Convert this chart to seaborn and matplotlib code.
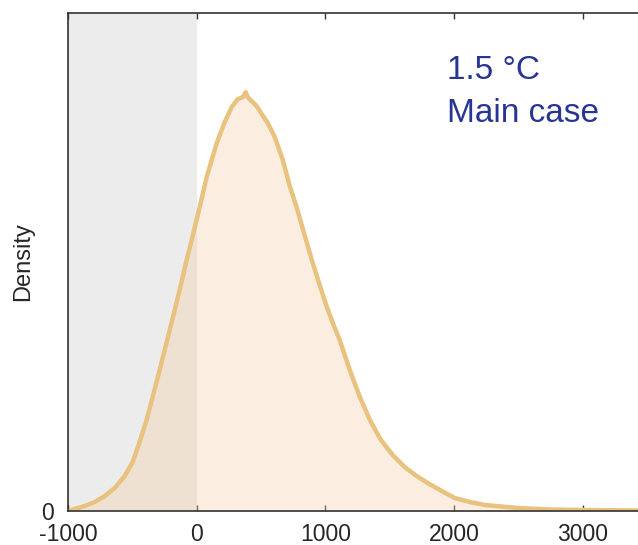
import matplotlib
matplotlib.use("Agg")
import matplotlib.pyplot as plt
import numpy as np
import pandas as pd
import seaborn as sns

# ---------------------------------------------------------------------------
# Data (density of the 1.5 °C main case)
# ---------------------------------------------------------------------------
x_vals = [-1000, -949, -871, -793, -715, -638, -560, -498, -443, -389, -342,
          -288, -210, -132, -78, -39, 23, 78, 156, 218, 272, 319, 358, 381,
          397, 428, 467, 506, 553, 607, 669, 723, 777, 839, 902, 956, 1011,
          1065, 1112, 1190, 1268, 1346, 1431, 1525, 1618, 1711, 1797, 1906,
          2007, 2124, 2240, 2497, 2745, 3018, 3430]
density = [0.0, 0.004, 0.010, 0.018, 0.030, 0.046, 0.070, 0.098, 0.139,
           0.183, 0.229, 0.283, 0.363, 0.444, 0.504, 0.544, 0.610, 0.671,
           0.739, 0.781, 0.811, 0.827, 0.831, 0.841, 0.831, 0.823, 0.813,
           0.797, 0.779, 0.751, 0.705, 0.653, 0.610, 0.554, 0.498, 0.454,
           0.410, 0.373, 0.343, 0.283, 0.229, 0.183, 0.143, 0.112, 0.088,
           0.070, 0.056, 0.040, 0.026, 0.018, 0.012, 0.006, 0.003, 0.002,
           0.001]
density_scale = 1e-3

shade_range = [-1000, 0]
x_ticks = [-1000, 0, 1000, 2000, 3000]
label_lines = ["1.5 °C", "Main case"]

df = pd.DataFrame({"x": x_vals, "density": np.array(density) * density_scale})

sns.set_theme(style="white")
plt.rcParams["font.family"] = ["Liberation Sans", "DejaVu Sans"]

fig = plt.figure(figsize=(6.38, 5.45), dpi=100)
ax = fig.add_axes([0.1066, 0.0624, 0.8934, 0.9137])

ax.axvspan(shade_range[0], shade_range[1], color="#ECECEC", lw=0, zorder=0)
ax.fill_between(df["x"], df["density"], 0, color="#F4CEA4", alpha=0.35,
                lw=0, zorder=1)
sns.lineplot(data=df, x="x", y="density", ax=ax, color="#E8C27E", lw=3.2,
             zorder=2, solid_joinstyle="round", solid_capstyle="round")

ax.set_xlim(-1000, 3430)
ax.set_ylim(0, 1e-3)
ax.set_xticks(x_ticks)
ax.set_xticklabels([str(t) for t in x_ticks], fontsize=16.5)
ax.set_yticks([0])
ax.set_yticklabels(["0"], fontsize=16.5)
ax.tick_params(axis="x", direction="in", length=4, width=1, color="#333333",
               top=True, bottom=True, pad=9)
ax.tick_params(axis="y", length=0, pad=10)
ax.set_xlabel("")
ax.set_ylabel("Density", fontsize=17, labelpad=5)

for side in ["left", "top", "bottom"]:
    ax.spines[side].set_color("#333333")
    ax.spines[side].set_linewidth(1.2)
ax.spines["right"].set_visible(False)

ax.text(0.665, 0.868, label_lines[0], transform=ax.transAxes, fontsize=24,
        color="#283593", ha="left", va="baseline")
ax.text(0.665, 0.782, label_lines[1], transform=ax.transAxes, fontsize=24,
        color="#283593", ha="left", va="baseline")

fig.savefig("out.png", dpi=100)
